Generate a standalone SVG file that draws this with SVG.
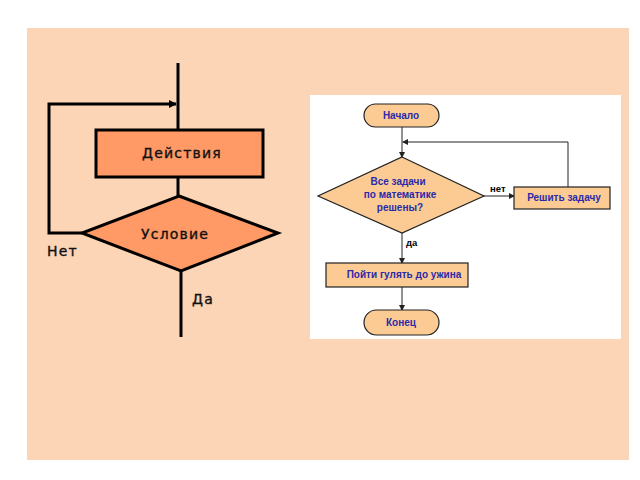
<svg xmlns="http://www.w3.org/2000/svg" width="640" height="480" viewBox="0 0 640 480">
  <defs>
    <style>
      .big { fill: #ff9966; stroke: #000; stroke-width: 3; }
      .bl { fill: none; stroke: #000; stroke-width: 3; }
      .bt { font-family: "DejaVu Sans", sans-serif; font-size: 14px; fill: #111; stroke: #111; stroke-width: 0.35; letter-spacing: 1.2px; }
      .sm { fill: #fccb94; stroke: #222; stroke-width: 1.2; }
      .sl { fill: none; stroke: #222; stroke-width: 1; }
      .st { font-family: "Liberation Sans", Arial, sans-serif; font-size: 10px; font-weight: bold; fill: #2a2aa8; text-anchor: middle; }
      .sk { font-family: "Liberation Sans", Arial, sans-serif; font-size: 9.5px; font-weight: bold; fill: #000; }
    </style>
    <marker id="ab" markerWidth="8" markerHeight="8" refX="7" refY="4" orient="auto" markerUnits="userSpaceOnUse">
      <path d="M0,0 L8,4 L0,8 Z" fill="#000"/>
    </marker>
    <marker id="as" markerWidth="6" markerHeight="6" refX="5" refY="3" orient="auto" markerUnits="userSpaceOnUse">
      <path d="M0,0 L6,3 L0,6 Z" fill="#222"/>
    </marker>
  </defs>

  <rect x="0" y="0" width="640" height="480" fill="#ffffff"/>
  <rect x="27" y="28" width="602" height="432" fill="#fbd5b5"/>

  <!-- left flowchart -->
  <g id="left-connectors">
    <line class="bl" x1="178" y1="63" x2="178" y2="130"/>
    <polyline class="bl" points="82,233 49,233 49,104 176,104" marker-end="url(#ab)"/>
    <line class="bl" x1="178" y1="177" x2="178" y2="196"/>
    <line class="bl" x1="181" y1="271" x2="181" y2="337"/>
  </g>
  <g id="actions">
    <rect class="big" x="96" y="130" width="167" height="47"/>
    <text class="bt" x="142" y="158">Действия</text>
  </g>
  <g id="condition">
    <polygon class="big" points="179,196 278,233 181,271 82,233"/>
    <text class="bt" x="141" y="239">Условие</text>
  </g>
  <g id="label-net">
    <text class="bt" x="47" y="256">Нет</text>
  </g>
  <g id="label-da">
    <text class="bt" x="192" y="304">Да</text>
  </g>

  <!-- right picture -->
  <rect x="310" y="95" width="311" height="244" fill="#ffffff"/>
  <g id="right-connectors">
    <line class="sl" x1="402" y1="127" x2="402" y2="157" marker-end="url(#as)"/>
    <polyline class="sl" points="568,187 568,142 403,142" marker-end="url(#as)"/>
    <line class="sl" x1="484" y1="196" x2="514" y2="196" marker-end="url(#as)"/>
    <line class="sl" x1="402" y1="233" x2="402" y2="263" marker-end="url(#as)"/>
    <line class="sl" x1="402" y1="287" x2="402" y2="310" marker-end="url(#as)"/>
    <text class="sk" x="490" y="192">нет</text>
    <text class="sk" x="406" y="246">да</text>
  </g>
  <g id="start">
    <rect class="sm" x="364" y="104" width="75" height="23" rx="11.5"/>
    <text class="st" x="401" y="119">Начало</text>
  </g>
  <g id="question">
    <polygon class="sm" points="402,157 484,196 402,233 318,196"/>
    <text class="st" x="398" y="185">Все задачи</text>
    <text class="st" x="400" y="198">по математике</text>
    <text class="st" x="400" y="211">решены?</text>
  </g>
  <g id="solve">
    <rect class="sm" x="514" y="187" width="96" height="22"/>
    <text class="st" x="564" y="201">Решить задачу</text>
  </g>
  <g id="walk">
    <rect class="sm" x="326" y="263" width="142" height="24"/>
    <text class="st" x="404" y="278">Пойти гулять до ужина</text>
  </g>
  <g id="end">
    <rect class="sm" x="364" y="310" width="75" height="25" rx="12.5"/>
    <text class="st" x="401" y="326">Конец</text>
  </g>
</svg>
